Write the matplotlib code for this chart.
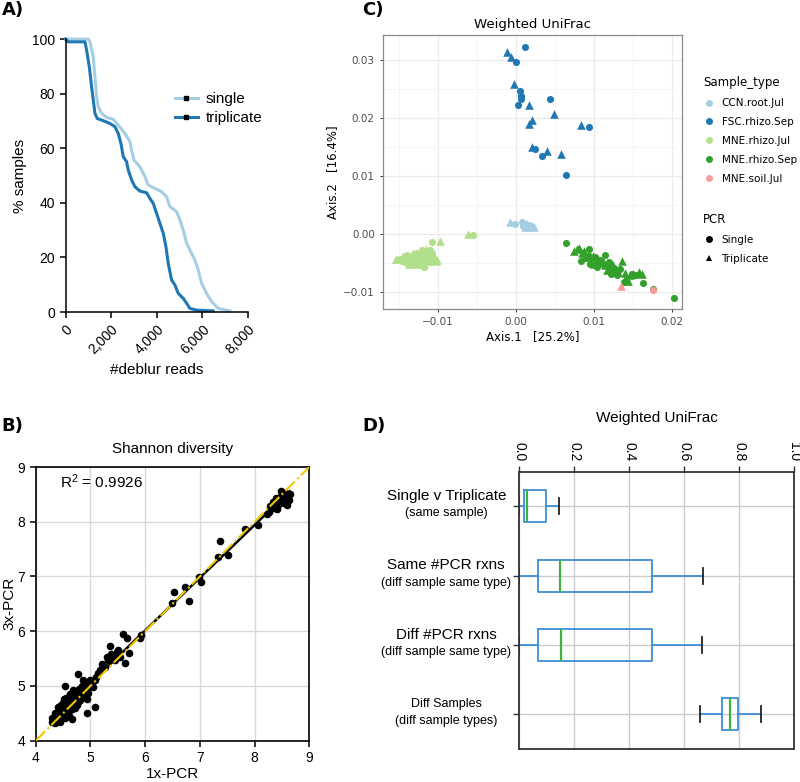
import numpy as np
import matplotlib.pyplot as plt
import matplotlib.transforms as mtransforms
from matplotlib.lines import Line2D

plt.rcParams['font.family'] = ['Liberation Sans', 'DejaVu Sans']

# ---- data: panel A (rarefaction-like survival curves)
single_reads = [0, 994, 1067, 1213, 1287, 1360, 1433, 1579, 1798, 2091, 2310, 2602, 2822, 2895,
                2997, 3260, 3480, 3626, 3918, 4211, 4430, 4576, 4868, 5015, 5161, 5307, 5526,
                5673, 5819, 5965, 6184, 6404, 6696, 7208]
single_pct = [100, 100, 99.0, 93.5, 86.2, 78.9, 75.2, 72.8, 71.3, 70.6, 68.5, 65.4, 62.4, 59.3,
              55.7, 53.2, 49.6, 46.5, 45.3, 44.1, 42.2, 38.6, 36.8, 33.7, 30.0, 25.2, 21.5,
              19.0, 15.4, 10.5, 6.8, 3.8, 1.3, 0.4]
trip_reads = [0, 117, 848, 921, 1038, 1140, 1213, 1287, 1389, 1652, 1944, 2164, 2310, 2427,
              2529, 2675, 2749, 2895, 3041, 3260, 3553, 3699, 3845, 3991, 4137, 4284, 4401,
              4503, 4649, 4795, 4942, 5161, 5307, 5453, 5746, 6477]
trip_pct = [100, 99.0, 99.0, 96.0, 89.9, 82.5, 77.7, 72.8, 70.9, 70.1, 69.1, 67.9, 65.4, 61.8,
            56.9, 55.1, 52.0, 48.4, 45.9, 44.3, 43.7, 41.6, 39.8, 36.1, 32.5, 28.8, 23.9,
            17.8, 11.7, 9.9, 6.8, 5.0, 3.2, 1.3, 0.7, 0.4]

# ---- data: panel B (Shannon diversity, 1x vs 3x PCR)
shannon_1x = [5.59, 5.66, 5.71, 5.63, 5.36, 5.37, 5.51, 5.54, 5.45, 5.30, 5.21, 5.18, 5.14, 5.08,
              4.99, 4.98, 4.93, 4.93, 4.86, 4.77, 4.81, 4.75, 4.66, 4.66, 4.54, 4.44, 4.32, 4.29,
              4.41, 4.51, 4.57, 4.69, 4.87, 4.72, 4.63, 4.51, 4.38, 4.35, 4.48, 4.60, 4.81, 4.90,
              4.96, 5.08, 5.11, 5.27, 5.33, 5.42, 5.48,
              4.40, 4.45, 4.50, 4.55, 4.60, 4.62, 4.48, 4.52, 4.58, 4.65, 4.70, 4.68, 4.72, 4.55,
              4.42, 4.38, 4.47, 4.53, 4.63, 4.74, 4.80, 4.85, 4.78, 4.90, 4.95, 5.02, 5.05, 4.35,
              4.45, 4.60, 4.30, 4.36, 4.43, 4.57, 4.66, 4.76,
              5.92, 5.91, 6.49, 6.52, 6.73, 6.81, 6.99, 7.03, 7.34, 7.52, 7.37, 7.82, 8.07,
              8.49, 8.56, 8.62, 8.63, 8.59, 8.53, 8.43, 8.39, 8.34, 8.28, 8.27, 8.41, 8.47, 8.57,
              8.64, 8.22, 8.45, 8.52, 8.60, 8.36]
shannon_3x = [5.95, 5.87, 5.61, 5.42, 5.73, 5.59, 5.65, 5.53, 5.47, 5.53, 5.40, 5.29, 5.23, 4.62,
              5.11, 4.99, 4.77, 4.51, 5.10, 5.22, 4.86, 4.68, 4.65, 4.39, 5.00, 4.35, 4.41, 4.35,
              4.62, 4.77, 4.50, 4.92, 4.83, 4.77, 4.86, 4.62, 4.50, 4.44, 4.53, 4.59, 4.74, 4.92,
              5.08, 5.11, 5.17, 5.35, 5.47, 5.53, 5.62,
              4.55, 4.60, 4.68, 4.72, 4.70, 4.62, 4.45, 4.50, 4.55, 4.75, 4.80, 4.68, 4.60, 4.78,
              4.48, 4.40, 4.65, 4.42, 4.56, 4.85, 4.95, 5.00, 4.70, 5.02, 4.88, 5.05, 4.98, 4.50,
              4.38, 4.46, 4.42, 4.33, 4.52, 4.64, 4.58, 4.66,
              5.93, 5.87, 6.52, 6.71, 6.81, 6.55, 6.99, 6.90, 7.35, 7.39, 7.65, 7.86, 7.94,
              8.57, 8.53, 8.51, 8.40, 8.30, 8.34, 8.30, 8.44, 8.36, 8.28, 8.18, 8.24, 8.46, 8.45,
              8.50, 8.15, 8.38, 8.42, 8.48, 8.26]

# ---- data: panel C (PCoA, weighted UniFrac)
ccn_single = [(-0.0001, 0.0017), (0.0010, 0.0017), (0.0012, 0.0014), (0.0018, 0.0011),
              (0.0009, 0.0014), (0.0016, 0.0015), (0.0008, 0.0020), (0.0021, 0.0012)]
ccn_trip = [(-0.0008, 0.0021), (0.0015, 0.0012), (0.0011, 0.0011), (0.0014, 0.0017),
            (0.0020, 0.0013), (0.0023, 0.0011)]
fsc_single = [(0.0012, 0.0322), (0.0000, 0.0297), (0.0005, 0.0246), (0.0006, 0.0238),
              (0.0007, 0.0232), (0.0003, 0.0222), (0.0044, 0.0232), (0.0024, 0.0146),
              (0.0033, 0.0135), (0.0064, 0.0102), (0.0093, 0.0184)]
fsc_trip = [(-0.0012, 0.0314), (-0.0006, 0.0306), (-0.0002, 0.0258), (0.0017, 0.0222),
            (0.0021, 0.0197), (0.0017, 0.0189), (0.0048, 0.0206), (0.0083, 0.0187),
            (0.0021, 0.0149), (0.0040, 0.0143), (0.0058, 0.0138)]
jul_single = [(-0.0055, -0.0002), (-0.0107, -0.0014), (-0.0118, -0.0058), (-0.0120, -0.0028),
              (-0.0110, -0.0029), (-0.0127, -0.0034), (-0.0117, -0.0032), (-0.0107, -0.0034),
              (-0.0140, -0.0037), (-0.0130, -0.0039), (-0.0120, -0.0038), (-0.0110, -0.0037),
              (-0.0148, -0.0044), (-0.0138, -0.0043), (-0.0128, -0.0044), (-0.0118, -0.0042),
              (-0.0107, -0.0044), (-0.0146, -0.0048), (-0.0134, -0.0049), (-0.0122, -0.0047),
              (-0.0110, -0.0049), (-0.0138, -0.0053), (-0.0124, -0.0054), (-0.0113, -0.0039)]
jul_trip = [(-0.0062, 0.0000), (-0.0097, -0.0012), (-0.0101, -0.0046), (-0.0154, -0.0043),
            (-0.0137, -0.0052), (-0.0115, -0.0027), (-0.0132, -0.0033), (-0.0122, -0.0034),
            (-0.0112, -0.0034), (-0.0145, -0.0039), (-0.0135, -0.0038), (-0.0125, -0.0038),
            (-0.0115, -0.0037), (-0.0105, -0.0039), (-0.0153, -0.0043), (-0.0143, -0.0042),
            (-0.0133, -0.0044), (-0.0123, -0.0043), (-0.0113, -0.0044), (-0.0140, -0.0048),
            (-0.0128, -0.0048), (-0.0116, -0.0048), (-0.0130, -0.0053), (-0.0118, -0.0052),
            (-0.0102, -0.0048)]
sep_single = [(0.0064, -0.0016), (0.0083, -0.0048), (0.0094, -0.0027), (0.0095, -0.0052),
              (0.0104, -0.0058), (0.0114, -0.0037), (0.0129, -0.0072), (0.0138, -0.0084),
              (0.0162, -0.0086), (0.0175, -0.0096), (0.0202, -0.0111), (0.0089, -0.0042),
              (0.0101, -0.0040), (0.0107, -0.0045), (0.0119, -0.0049), (0.0125, -0.0060),
              (0.0133, -0.0061), (0.0148, -0.0069), (0.0154, -0.0072), (0.0122, -0.0070)]
sep_trip = [(0.0074, -0.0030), (0.0078, -0.0027), (0.0081, -0.0025), (0.0084, -0.0033),
            (0.0087, -0.0030), (0.0090, -0.0038), (0.0093, -0.0035), (0.0096, -0.0041),
            (0.0099, -0.0039), (0.0102, -0.0046), (0.0105, -0.0043), (0.0108, -0.0050),
            (0.0111, -0.0047), (0.0114, -0.0054), (0.0117, -0.0051), (0.0116, -0.0063),
            (0.0120, -0.0058), (0.0124, -0.0055), (0.0127, -0.0062), (0.0131, -0.0066),
            (0.0136, -0.0048), (0.0139, -0.0068), (0.0144, -0.0081), (0.0146, -0.0072),
            (0.0150, -0.0069), (0.0157, -0.0066), (0.0161, -0.0069), (0.0141, -0.0075),
            (0.0100, -0.0052)]
soil_single = [(0.0175, -0.0098)]
soil_trip = [(0.0135, -0.0091)]

sample_types = ['CCN.root.Jul', 'FSC.rhizo.Sep', 'MNE.rhizo.Jul', 'MNE.rhizo.Sep', 'MNE.soil.Jul']
type_colors = ['#a6cee3', '#1f78b4', '#b2df8a', '#33a02c', '#fb9a99']

# ---- data: panel D (weighted UniFrac distances, box stats)
d_main = ['Single v Triplicate', 'Same #PCR rxns', 'Diff #PCR rxns', 'Diff Samples']
d_sub = ['(same sample)', '(diff sample same type)', '(diff sample same type)', '(diff sample types)']
d_whislo = [0.0, 0.0, 0.0, 0.656]
d_q1 = [0.016, 0.068, 0.069, 0.738]
d_med = [0.029, 0.150, 0.153, 0.765]
d_q3 = [0.099, 0.483, 0.484, 0.794]
d_whishi = [0.144, 0.667, 0.663, 0.877]

fig = plt.figure(figsize=(8, 7.82), dpi=100)

# ================= A
axA = fig.add_axes([0.082, 0.601, 0.228, 0.349])
axA.plot(single_reads, single_pct, color='#a6cee3', lw=2.2, clip_on=False)
axA.plot(trip_reads, trip_pct, color='#1f78b4', lw=2.2, clip_on=False)
axA.set_xlim(0, 8000)
axA.set_ylim(0, 100)
axA.set_xticks([0, 2000, 4000, 6000, 8000])
axA.set_xticklabels(['{:,}'.format(v) for v in [0, 2000, 4000, 6000, 8000]],
                    rotation=45, ha='right', rotation_mode='anchor')
axA.set_yticks([0, 20, 40, 60, 80, 100])
axA.spines[['top', 'right']].set_visible(False)
for s in ['left', 'bottom']:
    axA.spines[s].set_linewidth(1.1)
axA.tick_params(labelsize=10, length=4, width=1.1)
axA.set_xlabel('#deblur reads', fontsize=11)
axA.set_ylabel('% samples', fontsize=11)
hA = [Line2D([], [], color=c, lw=2.2, marker='s', markersize=2.5, markerfacecolor='k',
             markeredgecolor='k') for c in ['#a6cee3', '#1f78b4']]
axA.legend(hA, ['single', 'triplicate'], loc='center left', bbox_to_anchor=(0.60, 0.745),
           frameon=False, fontsize=11, handlelength=1.5, handletextpad=0.5, borderpad=0,
           borderaxespad=0, labelspacing=0.35, numpoints=1)

# ================= B
axB = fig.add_axes([0.0446, 0.0528, 0.342, 0.350])
axB.grid(True, color='#d9d9d9', lw=1)
axB.set_axisbelow(True)
axB.scatter(shannon_1x, shannon_3x, s=20, color='black', zorder=3)
slope, icpt = np.polyfit(shannon_1x, shannon_3x, 1)
xs = np.array([min(shannon_1x), max(shannon_1x)])
axB.plot(xs, slope * xs + icpt, color='black', lw=1.8, zorder=4)
axB.axline((4, 4), slope=1, color='#f2c500', lw=1.5, ls='-.', zorder=5)
axB.set_xlim(4, 9)
axB.set_ylim(4, 9)
axB.set_xticks(range(4, 10))
axB.set_yticks(range(4, 10))
for s in axB.spines.values():
    s.set_linewidth(1.2)
axB.tick_params(labelsize=10, length=4, width=1.1)
axB.set_title('Shannon diversity', fontsize=11, pad=10)
axB.set_xlabel('1x-PCR', fontsize=11, labelpad=1)
axB.set_ylabel('3x-PCR', fontsize=11, labelpad=1)
axB.text(4.44, 8.74, r'$\mathregular{R^2}$ = 0.9926', fontsize=11, va='center')

# ================= C
axC = fig.add_axes([0.479, 0.605, 0.374, 0.350])
axC.set_xlim(-0.0170, 0.0213)
axC.set_ylim(-0.0130, 0.0343)
axC.set_xticks([-0.01, 0, 0.01, 0.02])
axC.set_xticklabels(['\u22120.01', '0.00', '0.01', '0.02'])
axC.set_yticks([-0.01, 0, 0.01, 0.02, 0.03])
axC.set_yticklabels(['\u22120.01', '0.00', '0.01', '0.02', '0.03'])
axC.set_xticks([-0.015, -0.005, 0.005, 0.015], minor=True)
axC.set_yticks([-0.005, 0.005, 0.015, 0.025], minor=True)
axC.grid(True, which='major', color='#ebebeb', lw=0.9)
axC.grid(True, which='minor', color='#f4f4f4', lw=0.6)
axC.set_axisbelow(True)
for s in axC.spines.values():
    s.set_color('#8a8a8a')
    s.set_linewidth(0.9)
axC.tick_params(which='major', labelsize=7.5, labelcolor='#4d4d4d', color='#333333',
                length=2.5, width=0.7)
axC.tick_params(which='minor', length=0)
for lab in axC.get_xticklabels() + axC.get_yticklabels():
    lab.set_family('DejaVu Sans')
groups = [(ccn_single, ccn_trip), (fsc_single, fsc_trip), (jul_single, jul_trip),
          (sep_single, sep_trip), (soil_single, soil_trip)]
for (sing, trip), col in zip(groups, type_colors):
    sx, sy = zip(*sing)
    tx, ty = zip(*trip)
    axC.scatter(sx, sy, s=26, marker='o', color=col, linewidths=0, zorder=3)
    axC.scatter(tx, ty, s=38, marker='^', color=col, linewidths=0, zorder=3)
axC.set_title('Weighted UniFrac', fontsize=9.5, family='DejaVu Sans', pad=5)
axC.set_xlabel('Axis.1   [25.2%]', fontsize=8.5, family='DejaVu Sans', labelpad=2)
axC.set_ylabel('Axis.2   [16.4%]', fontsize=8.5, family='DejaVu Sans', labelpad=3)

h1 = [Line2D([], [], ls='', marker='o', markersize=5, color=c, markeredgewidth=0)
      for c in type_colors]
fig.legend(h1, sample_types, title='Sample_type', loc='upper left',
           bbox_to_anchor=(0.872, 0.909), frameon=False, alignment='left',
           prop={'family': 'DejaVu Sans', 'size': 7.5},
           title_fontproperties={'family': 'DejaVu Sans', 'size': 8.5},
           handlelength=1.2, handletextpad=0.6, labelspacing=0.85, borderpad=0)
h2 = [Line2D([], [], ls='', marker=m, markersize=5, color='black', markeredgewidth=0)
      for m in ['o', '^']]
fig.legend(h2, ['Single', 'Triplicate'], title='PCR', loc='upper left',
           bbox_to_anchor=(0.872, 0.734), frameon=False, alignment='left',
           prop={'family': 'DejaVu Sans', 'size': 7.5},
           title_fontproperties={'family': 'DejaVu Sans', 'size': 8.5},
           handlelength=1.2, handletextpad=0.6, labelspacing=0.85, borderpad=0)

# ================= D
axD = fig.add_axes([0.649, 0.042, 0.344, 0.355])
stats = [dict(whislo=a, q1=b, med=c, q3=d, whishi=e, fliers=[])
         for a, b, c, d, e in zip(d_whislo, d_q1, d_med, d_q3, d_whishi)]
axD.bxp(stats, positions=[1, 2, 3, 4], widths=0.46, vert=False, showfliers=False,
        boxprops=dict(color='#3d8fd6', lw=1.3),
        whiskerprops=dict(color='#3d8fd6', lw=1.3),
        capprops=dict(color='#222222', lw=1.3),
        medianprops=dict(color='#3cb43c', lw=1.6))
axD.set_xlim(0, 1)
axD.set_ylim(4.5, 0.5)
axD.xaxis.tick_top()
axD.set_xticks([0, 0.2, 0.4, 0.6, 0.8, 1.0])
axD.set_xticklabels(['0.0', '0.2', '0.4', '0.6', '0.8', '1.0'], rotation=-90)
axD.set_yticks([1, 2, 3, 4])
axD.set_yticklabels([])
axD.grid(True, color='#cccccc', lw=1)
axD.set_axisbelow(True)
for s in axD.spines.values():
    s.set_color('#333333')
    s.set_linewidth(1.3)
axD.tick_params(labelsize=10, length=4, width=1, color='#333333')
axD.set_title('Weighted UniFrac', fontsize=11, pad=14)
tr = mtransforms.blended_transform_factory(axD.transAxes, axD.transData)
for i, (m, sub) in enumerate(zip(d_main, d_sub)):
    pos = i + 1
    axD.text(-0.265, pos - 0.15, m, transform=tr, ha='center', va='center',
             fontsize=11 if i < 3 else 9)
    axD.text(-0.265, pos + 0.10, sub, transform=tr, ha='center', va='center', fontsize=9)

# panel letters
for lab, x, y in [('A)', 0.002, 0.999), ('C)', 0.453, 0.999), ('B)', 0.002, 0.467),
                  ('D)', 0.453, 0.467)]:
    fig.text(x, y, lab, fontsize=13, weight='bold', va='top', family='DejaVu Sans')

fig.savefig('out.png', dpi=100)
